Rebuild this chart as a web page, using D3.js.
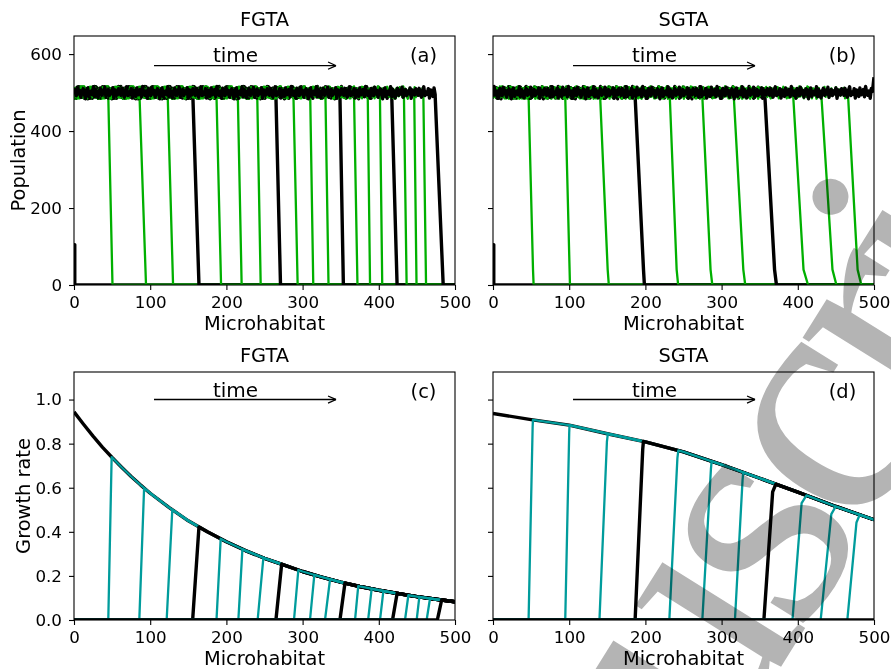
<!DOCTYPE html>
<html><head><meta charset="utf-8">
<script src="https://cdn.jsdelivr.net/npm/d3@7"></script>
<style>body{margin:0;background:#fff}svg{display:block;background:#fff}</style>
</head><body><svg id="c" width="891" height="669"></svg>
<script>
// ---------------- data ----------------
const xTicks = [0, 100, 200, 300, 400, 500];
const popTicks = [0, 200, 400, 600];
const grTicks = [0.0, 0.2, 0.4, 0.6, 0.8, 1.0];
const panelTitles = ["FGTA", "SGTA", "FGTA", "SGTA"];
const panelTags = ["(a)", "(b)", "(c)", "(d)"];
const popInit = 105;
const popLevel = 500;
const popFrontLevel = 490;
const popNoise = [4,-7,11,-3,-12,6,15,-8,2,-4,10,-14,7,3,-10,12,-6,0,8,-11,16,-2,-7,4,-15,11,3,-8,14,-4,6,-12,2,10,-3,-16,7,12,-10,0,4,-6,15,-11,8,-2,-14,3,11,-7,6,-4,14,-12,2,8,-8,4,-3,12,-15,7,0,-6,10];
// (a) FGTA population fronts
const frontTopA = [1, 45, 86, 123, 156, 187, 215, 240.5, 265, 288, 310, 330, 349, 367.5, 385.5, 401.5, 417, 433, 446.5, 458.5, 474];
const frontBotA = [1, 50.5, 94.5, 130, 164, 193, 220, 245, 271, 293.5, 314, 334, 353.5, 372, 388.5, 404.5, 424, 436.5, 449.5, 462, 484.5];
// (b) SGTA population fronts
const frontTopB  = [1, 46.7, 94.8, 140.6, 186.5, 232, 274.7, 316, 356.8, 394, 431, 466, 498];
const frontKneeB = [1, 52.5, 100.5, 150.5, 197.5, 241, 285.5, 328.5, 369.5, 407.5, 445.5, 478.5, null];
const frontBotB  = [1, 53.3, 101, 152, 198.7, 243, 287.8, 331, 372, 413.5, 450.7, 483.4, null];
const popEdgeB = 540;
// (c) FGTA growth rate
const envCx = [0,12.5,25,37.5,50,62.5,75,87.5,100,125,150,175,200,225,250,275,300,325,350,375,400,425,450,475,500];
const envC  = [0.944,0.888,0.834,0.783,0.737,0.693,0.651,0.612,0.575,0.51,0.45,0.40,0.355,0.315,0.28,0.25,0.22,0.195,0.172,0.152,0.135,0.12,0.106,0.094,0.083];
const riseBotC = [0, 45, 85.7, 121.6, 155.7, 187, 215.7, 241, 265, 288.7, 309.7, 329.4, 349, 368.8, 386, 401.6, 418, 434.4, 449.7, 462.8, 476.8];
const riseTopC = [0, 49.4, 92, 129, 164, 192.5, 221, 248.5, 272.5, 294.4, 315.4, 336, 355.6, 373, 390.6, 406, 424, 438.8, 453.2, 467.2, 482.5];
// (d) SGTA growth rate
const envDx = [0,50,100,150,200,250,300,350,400,450,500];
const envD  = [0.937,0.909,0.884,0.845,0.808,0.763,0.705,0.643,0.58,0.515,0.455];
const riseBotD  = [0, 46.7, 94.8, 139.7, 186.5, 231.4, 274.7, 317.5, 355.5, 393, 430, 465, null];
const riseKneeD = [0, 52, 100, 149.5, 196.5, 242, 286, 327.5, 367, 405, 444, 477, null];
const riseTopD  = [0, 52.4, 100.4, 150.7, 197.4, 243.2, 286.9, 328.4, 371.2, 411.4, 449.8, 481.2, null];

// ---------------- style ----------------
const GREEN = "#00b000", TEAL = "#009c9c", BLACK = "#000";
const FONT = "'DejaVu Sans', sans-serif";
const svg = d3.select("#c");
svg.append("rect").attr("width", 891).attr("height", 669).attr("fill", "#fff");
const defs = svg.append("defs");
defs.append("marker").attr("id", "arr").attr("viewBox", "0 0 10 10").attr("refX", 10).attr("refY", 5)
  .attr("markerWidth", 9).attr("markerHeight", 9).attr("markerUnits", "userSpaceOnUse").attr("orient", "auto")
  .append("path").attr("d", "M1,1 L10,5 L1,9").attr("fill", "none").attr("stroke", "#000").attr("stroke-width", 1.4);

function envAt(xs, ys, x) {
  const i = Math.max(1, Math.min(xs.length - 1, d3.bisectLeft(xs, x)));
  const t = (x - xs[i - 1]) / (xs[i] - xs[i - 1]);
  return ys[i - 1] + t * (ys[i] - ys[i - 1]);
}
const isBlack = i => i % 4 === 0;

function popCurvesA() {
  return frontTopA.map((top, i) => {
    if (i === 0) return [[0, popInit], [1, popInit], [1, 0], [500, 0]];
    const pts = [];
    for (let k = 0; k * 1.5 <= top; k++) pts.push([k * 1.5, popLevel + popNoise[(k + 11 * i) % popNoise.length]]);
    pts.push([top, popFrontLevel], [frontBotA[i], 0], [500, 0]);
    return pts;
  });
}
function popCurvesB() {
  return frontTopB.map((top, i) => {
    if (i === 0) return [[0, popInit], [1, popInit], [1, 0], [500, 0]];
    const pts = [];
    for (let k = 0; k * 1.5 <= top; k++) pts.push([k * 1.5, popLevel + popNoise[(k + 7 * i) % popNoise.length]]);
    if (frontBotB[i] === null) { pts.push([500, popEdgeB]); return pts; }
    pts.push([top, popFrontLevel], [frontKneeB[i], 40], [frontBotB[i], 0], [500, 0]);
    return pts;
  });
}
function grCurvesC() {
  return riseTopC.map((top, i) => {
    const env = envCx.map((x, k) => [x, envC[k]]);
    if (i === 0) return env;
    return [[0, 0], [riseBotC[i], 0], [top, envAt(envCx, envC, top)]].concat(env.filter(p => p[0] > top));
  });
}
function grCurvesD() {
  return riseTopD.map((top, i) => {
    const env = envDx.map((x, k) => [x, envD[k]]);
    if (i === 0) return env;
    if (top === null) return [[0, 0], [500, 0]];
    const e = envAt(envDx, envD, top);
    return [[0, 0], [riseBotD[i], 0], [riseKneeD[i], e - 0.035], [top, e]].concat(env.filter(p => p[0] > top));
  });
}

const panels = [
  {x0: 74, x1: 455, y0: 36, y1: 285, ymax: 647, yTicks: popTicks, fmt: d3.format("d"), labels: true, ylabel: "Population", ylabX: 25,
   curves: popCurvesA(), col: GREEN, timeY: 570, timeTY: 580, xlabel: "Microhabitat"},
  {x0: 493, x1: 874, y0: 36, y1: 285, ymax: 647, yTicks: popTicks, fmt: d3.format("d"), labels: false,
   curves: popCurvesB(), col: GREEN, timeY: 570, timeTY: 580, xlabel: "Microhabitat"},
  {x0: 74, x1: 455, y0: 372, y1: 620, ymax: 1.125, yTicks: grTicks, fmt: d3.format(".1f"), labels: true, ylabel: "Growth rate", ylabX: 30,
   curves: grCurvesC(), col: TEAL, timeY: 1.0, timeTY: 1.013, xlabel: "Microhabitat"},
  {x0: 493, x1: 874, y0: 372, y1: 620, ymax: 1.125, yTicks: grTicks, fmt: d3.format(".1f"), labels: false,
   curves: grCurvesD(), col: TEAL, timeY: 1.0, timeTY: 1.013, xlabel: "Microhabitat"}
];

function txt(sel) { return sel.style("font-family", FONT).attr("fill", "#000"); }

panels.forEach((p, pi) => {
  const x = d3.scaleLinear().domain([0, 500]).range([p.x0, p.x1]);
  const y = d3.scaleLinear().domain([0, p.ymax]).range([p.y1, p.y0]);
  const cid = "clip" + pi;
  defs.append("clipPath").attr("id", cid).append("rect")
    .attr("x", p.x0).attr("y", p.y0).attr("width", p.x1 - p.x0).attr("height", p.y1 - p.y0);
  const line = d3.line().x(d => x(d[0])).y(d => y(d[1]));
  const g = svg.append("g").attr("clip-path", `url(#${cid})`);
  p.curves.forEach((pts, i) => {
    g.append("path").attr("d", line(pts)).attr("fill", "none")
      .attr("stroke", isBlack(i) ? BLACK : p.col).attr("stroke-width", isBlack(i) ? 3.4 : 2.3)
      .attr("stroke-linejoin", "round").attr("stroke-linecap", "butt");
  });
  const ax = svg.append("g").attr("transform", `translate(0,${p.y1})`)
    .call(d3.axisBottom(x).tickValues(xTicks).tickSize(5).tickPadding(6).tickFormat(d3.format("d")));
  const ay = svg.append("g").attr("transform", `translate(${p.x0},0)`)
    .call(d3.axisLeft(y).tickValues(p.yTicks).tickSize(5).tickPadding(7).tickFormat(p.labels ? p.fmt : () => ""));
  [ax, ay].forEach(a => {
    a.select(".domain").remove();
    a.selectAll("line").attr("stroke-width", 1.1);
    txt(a.selectAll("text")).attr("font-size", 16.7);
  });
  svg.append("rect").attr("x", p.x0).attr("y", p.y0).attr("width", p.x1 - p.x0).attr("height", p.y1 - p.y0)
    .attr("fill", "none").attr("stroke", "#000").attr("stroke-width", 1.1);
  txt(svg.append("text")).attr("x", (p.x0 + p.x1) / 2).attr("y", p.y0 - 10).attr("text-anchor", "middle")
    .attr("font-size", 19.4).text(panelTitles[pi]);
  txt(svg.append("text")).attr("x", (p.x0 + p.x1) / 2).attr("y", p.y1 + 45).attr("text-anchor", "middle")
    .attr("font-size", 19.4).text(p.xlabel);
  if (p.ylabel) {
    txt(svg.append("text")).attr("transform", `translate(${p.ylabX},${(p.y0 + p.y1) / 2}) rotate(-90)`)
      .attr("text-anchor", "middle").attr("font-size", 19.4).text(p.ylabel);
  }
  txt(svg.append("text")).attr("x", p.x1 - 31.5).attr("y", p.y0 + 25.5).attr("text-anchor", "middle")
    .attr("font-size", 19.4).text(panelTags[pi]);
  txt(svg.append("text")).attr("x", x(212)).attr("y", y(p.timeTY)).attr("text-anchor", "middle")
    .attr("font-size", 20).text("time");
  svg.append("line").attr("x1", x(105)).attr("x2", x(344)).attr("y1", y(p.timeY)).attr("y2", y(p.timeY))
    .attr("stroke", "#000").attr("stroke-width", 1.4).attr("marker-end", "url(#arr)");
});

// watermark
(function () {
  const F = 340, ang = -58, ls = -0.05 * F;
  const WF = "'Liberation Serif', serif";
  const tmp = svg.append("text").style("font-family", WF).attr("font-size", F).style("letter-spacing", ls + "px");
  tmp.text("Manu"); const w1 = tmp.node().getComputedTextLength();
  tmp.text("s"); const ws = tmp.node().getComputedTextLength() - ls;
  tmp.remove();
  const lx = ws / 2, ly = -0.23 * F;
  const a = ang * Math.PI / 180, c = Math.cos(a), s = Math.sin(a);
  const rx = lx * c - ly * s, ry = lx * s + ly * c;
  const tx = 768 - rx, ty = 540 - ry;
  svg.append("text").attr("transform", `translate(${tx},${ty}) rotate(${ang})`).attr("x", -w1)
    .style("font-family", WF).style("letter-spacing", ls + "px").attr("font-size", F).attr("fill", "#b4b4b4")
    .style("mix-blend-mode", "multiply").text("Manuscript");
})();
</script></body></html>
